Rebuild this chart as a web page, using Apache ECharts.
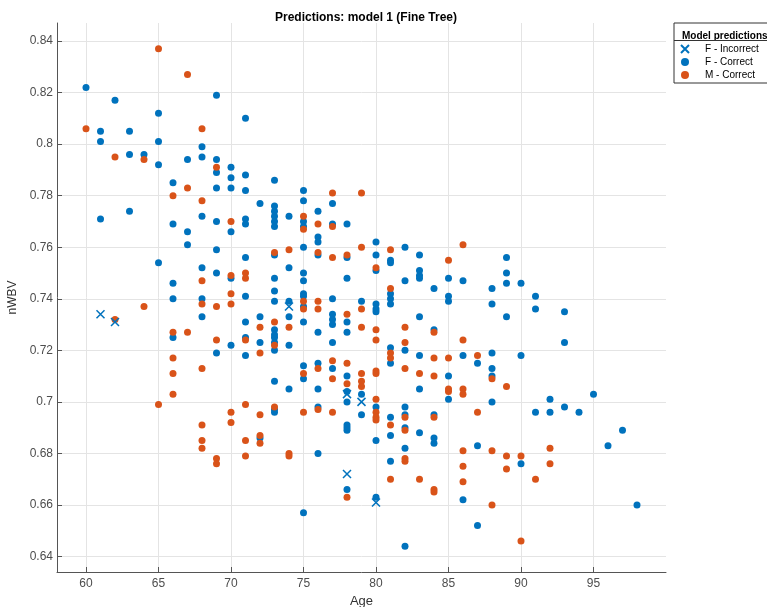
<!DOCTYPE html>
<html>
<head>
<meta charset="utf-8">
<script src="https://cdn.jsdelivr.net/npm/echarts@6/dist/echarts.min.js"></script>
<style>html,body{margin:0;padding:0;background:#fff}#c{width:767px;height:607px}</style>
</head>
<body>
<div id="c"></div>
<script>
// ---- Data: [Age, nWBV] ----
var seriesNames = ['F - Incorrect', 'F - Correct', 'M - Correct'];

var fIncorrect = [
  [61,0.734],[62,0.731],[74,0.737],[78,0.703],[79,0.700],[78,0.672],[80,0.661]
];

var fCorrect = [
  [60,0.822],[62,0.817],[69,0.819],[65,0.812],[71,0.810],[61,0.805],[63,0.805],[61,0.801],[65,0.801],
  [68,0.799],[63,0.796],[64,0.796],[65,0.792],[67,0.794],[68,0.795],[69,0.794],[69,0.789],[70,0.791],
  [70,0.787],[71,0.788],[66,0.785],[69,0.783],[70,0.783],[71,0.782],[72,0.777],[63,0.774],
  [73,0.786],[75,0.782],[75,0.778],[77,0.777],
  [61,0.771],[66,0.769],[68,0.772],[69,0.770],[71,0.771],[71,0.769],[67,0.766],[70,0.766],[67,0.761],
  [69,0.759],[71,0.756],[65,0.754],[68,0.752],[69,0.750],[70,0.748],[66,0.746],[71,0.741],[66,0.740],
  [68,0.740],[68,0.733],[72,0.733],[71,0.731],[66,0.725],[71,0.725],[70,0.722],[72,0.723],
  [73,0.776],[73,0.774],[73,0.772],[73,0.770],[73,0.768],[74,0.772],[75,0.770],[75,0.768],[76,0.774],
  [76,0.764],[76,0.762],[76,0.757],[77,0.769],[78,0.769],[73,0.757],[75,0.760],[78,0.756],[80,0.762],
  [80,0.757],[80,0.751],[81,0.755],[81,0.754],[82,0.760],[83,0.757],[83,0.751],[83,0.749],[83,0.748],
  [74,0.752],[75,0.750],[75,0.747],[73,0.748],[78,0.748],[82,0.747],[84,0.744],[85,0.748],[86,0.747],
  [73,0.743],[75,0.742],[75,0.741],[81,0.742],[81,0.740],[81,0.738],[85,0.741],[85,0.739],[73,0.739],
  [74,0.739],[75,0.737],[77,0.740],[79,0.739],[80,0.738],[80,0.736],[80,0.735],[78,0.731],[77,0.734],
  [77,0.732],[83,0.733],[74,0.733],[75,0.731],[73,0.728],[73,0.726],[73,0.725],[76,0.727],[77,0.730],
  [84,0.728],[78,0.727],[73,0.723],[77,0.723],[74,0.722],
  [89,0.756],[89,0.750],[89,0.746],[90,0.746],[88,0.744],[91,0.741],[88,0.738],[91,0.736],[93,0.735],
  [89,0.733],[93,0.723],
  [69,0.719],[71,0.718],[72,0.686],
  [73,0.720],[82,0.720],[81,0.721],[81,0.715],[83,0.718],[86,0.718],[75,0.714],[75,0.709],[76,0.715],
  [77,0.713],[78,0.710],[78,0.704],[78,0.700],[79,0.703],[79,0.695],[80,0.698],[80,0.685],[85,0.710],
  [85,0.701],[83,0.705],[73,0.708],[74,0.705],[76,0.705],[73,0.697],[73,0.696],[76,0.698],[81,0.694],
  [81,0.687],[82,0.698],[82,0.695],[82,0.690],[83,0.688],[84,0.695],[84,0.686],[84,0.684],[78,0.691],
  [78,0.690],[78,0.689],[76,0.680],[82,0.682],[81,0.677],
  [88,0.719],[90,0.718],[87,0.715],[88,0.713],[88,0.710],[95,0.703],[88,0.700],[92,0.701],[91,0.696],
  [92,0.696],[93,0.698],[94,0.696],[97,0.689],[96,0.683],[87,0.683],[90,0.676],
  [78,0.666],[80,0.663],[86,0.662],[75,0.657],[82,0.644],[87,0.652],[98,0.660]
];

var mCorrect = [
  [65,0.837],[67,0.827],[60,0.806],[68,0.806],[62,0.795],[64,0.794],[69,0.791],[67,0.783],[66,0.780],
  [68,0.778],[77,0.781],[79,0.781],
  [70,0.770],[68,0.747],[70,0.749],[71,0.750],[71,0.748],[70,0.742],[68,0.738],[69,0.737],[70,0.738],
  [64,0.737],[62,0.732],[72,0.729],[66,0.727],[67,0.727],[69,0.724],[71,0.724],
  [75,0.772],[75,0.767],[76,0.769],[76,0.758],[77,0.768],[73,0.758],[74,0.759],[77,0.756],[78,0.757],
  [79,0.760],[80,0.752],[81,0.759],[85,0.755],[86,0.761],[81,0.744],[75,0.739],[75,0.736],[76,0.739],
  [76,0.736],[79,0.736],[78,0.734],[73,0.731],[74,0.729],[79,0.729],[80,0.728],[82,0.729],[84,0.727],
  [80,0.724],[82,0.723],[86,0.724],[73,0.722],
  [72,0.719],[66,0.717],[68,0.713],[66,0.711],[66,0.703],[65,0.699],[71,0.699],[70,0.696],[72,0.695],
  [68,0.691],[70,0.692],[68,0.685],[68,0.682],[71,0.685],[72,0.687],[72,0.684],[71,0.679],[69,0.678],
  [69,0.676],
  [81,0.719],[81,0.717],[84,0.717],[85,0.717],[75,0.711],[76,0.713],[77,0.716],[77,0.709],[78,0.715],
  [78,0.707],[79,0.711],[79,0.708],[79,0.706],[80,0.712],[80,0.711],[80,0.701],[80,0.696],[80,0.694],
  [80,0.693],[82,0.713],[83,0.711],[84,0.710],[85,0.705],[85,0.704],[86,0.705],[86,0.703],[73,0.698],
  [75,0.696],[76,0.697],[77,0.696],[81,0.691],[82,0.694],[82,0.689],[84,0.694],[74,0.680],[74,0.679],
  [82,0.678],[82,0.677],[86,0.681],[86,0.675],[81,0.670],[83,0.670],[86,0.669],
  [87,0.718],[88,0.709],[89,0.706],[87,0.696],[88,0.681],[92,0.682],[89,0.679],[90,0.679],[92,0.676],
  [89,0.674],[91,0.670],
  [78,0.663],[84,0.666],[84,0.665],[88,0.660],[90,0.646]
];

var xTicks = [60, 65, 70, 75, 80, 85, 90, 95];
var yTicks = [0.64, 0.66, 0.68, 0.70, 0.72, 0.74, 0.76, 0.78, 0.80, 0.82, 0.84];

var BLUE = '#0072BD', ORANGE = '#D95319';
var FONT = '"Liberation Sans", Arial, Helvetica, sans-serif';
var chart = echarts.init(document.getElementById('c'), null, {renderer: 'canvas'});

chart.setOption({
  animation: false,
  backgroundColor: '#fff',
  textStyle: {fontFamily: FONT},
  title: [
    {text: 'Predictions: model 1 (Fine Tree)', left: 361, top: 7, textAlign: 'center',
     textStyle: {fontFamily: FONT, fontSize: 12, fontWeight: 'bold', color: '#000'}},
    {text: 'Model predictions', left: 677, top: 26,
     textStyle: {fontFamily: FONT, fontSize: 10, fontWeight: 'bold', color: '#000'}}
  ],
  grid: {left: 57, right: 101, top: 23, bottom: 35, containLabel: false, outerBoundsMode: 'none'},
  legend: {
    orient: 'vertical', left: 674, top: 23,
    padding: [20, 40, 2, 6],
    backgroundColor: '#fff', borderColor: '#333', borderWidth: 1,
    itemWidth: 30, itemHeight: 8, itemGap: 1,
    textStyle: {fontFamily: FONT, fontSize: 10, color: '#000', lineHeight: 12},
    data: seriesNames
  },
  graphic: [
    {type: 'line', z: 100, shape: {x1: 674, y1: 40.5, x2: 767, y2: 40.5}, style: {stroke: '#333', lineWidth: 1}}
  ],
  xAxis: {
    type: 'value', min: 58, max: 100,
    name: 'Age', nameLocation: 'middle', nameGap: 20,
    nameTextStyle: {fontFamily: FONT, fontSize: 13, color: '#333'},
    axisLine: {show: true, lineStyle: {color: '#555', width: 1}},
    axisTick: {show: true, inside: true, length: 5, customValues: xTicks, lineStyle: {color: '#555'}},
    axisLabel: {customValues: xTicks, fontFamily: FONT, fontSize: 12, color: '#4d4d4d', margin: 6},
    splitLine: {show: true, lineStyle: {color: '#e4e4e4', width: 1}}
  },
  yAxis: {
    type: 'value', min: 0.634, max: 0.847,
    name: 'nWBV', nameLocation: 'middle', nameGap: 30, nameRotate: 90,
    nameTextStyle: {fontFamily: FONT, fontSize: 12, color: '#333'},
    axisLine: {show: true, lineStyle: {color: '#555', width: 1}},
    axisTick: {show: true, inside: true, length: 5, customValues: yTicks, lineStyle: {color: '#555'}},
    axisLabel: {customValues: yTicks, fontFamily: FONT, fontSize: 12, color: '#4d4d4d', margin: 4,
      formatter: function (v) { return String(+(+v).toFixed(2)); }},
    splitLine: {show: true, lineStyle: {color: '#e4e4e4', width: 1}}
  },
  series: [
    {name: seriesNames[0], type: 'scatter', data: fIncorrect, z: 5,
     symbol: 'path://M0,0L10,10M10,0L0,10', symbolSize: 8,
     itemStyle: {color: 'rgba(0,0,0,0)', borderColor: BLUE, borderWidth: 1.5, opacity: 1}},
    {name: seriesNames[1], type: 'scatter', data: fCorrect, z: 3,
     symbol: 'circle', symbolSize: 7, itemStyle: {color: BLUE, opacity: 1}},
    {name: seriesNames[2], type: 'scatter', data: mCorrect, z: 4,
     symbol: 'circle', symbolSize: 7, itemStyle: {color: ORANGE, opacity: 1}}
  ]
});
</script>
</body>
</html>
